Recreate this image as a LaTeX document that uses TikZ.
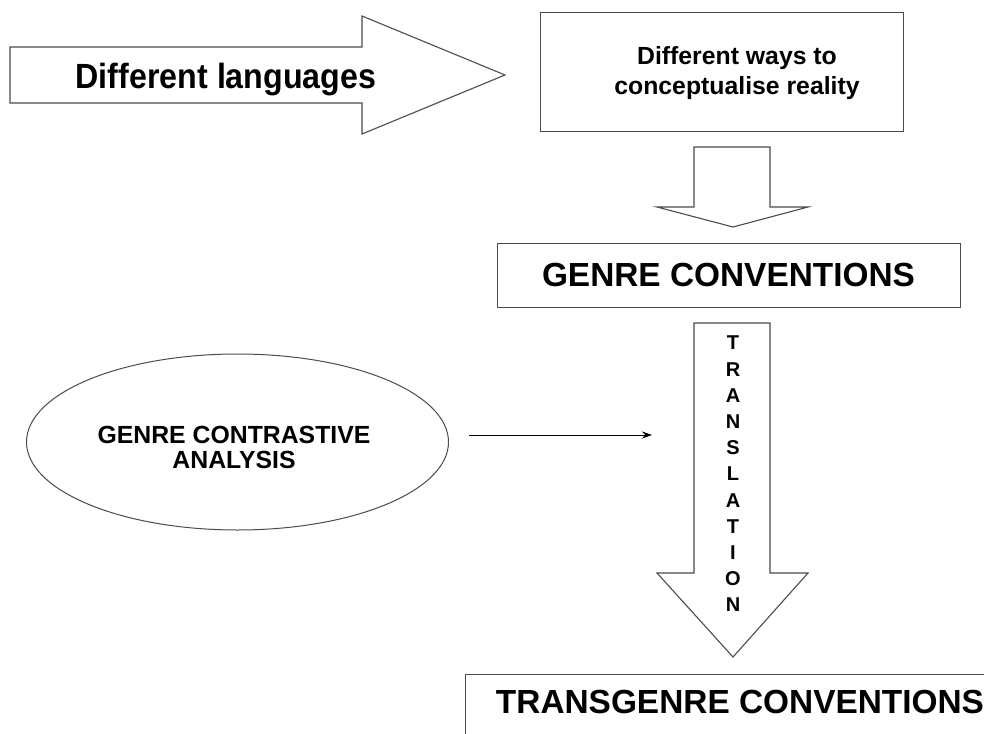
\documentclass[tikz,border=0pt]{standalone}
\usepackage{fontspec}
\setmainfont{Liberation Sans}
\usetikzlibrary{arrows.meta,shapes.geometric}
\begin{document}
\begin{tikzpicture}[x=1pt,y=-1pt,
  outline/.style={draw=black!70, line width=1.1pt, fill=white, line join=miter},
  plainbox/.style={draw=black!70, line width=1.1pt, fill=white},
  bigtxt/.style={font=\bfseries\fontsize{33.4}{38}\selectfont, inner sep=0pt},
  thin arrow/.style={draw=black, line width=0.9pt, -{Stealth[length=10pt,width=7pt]}}
]
\useasboundingbox (0,0) rectangle (984,733);
\clip (0,0) rectangle (984,733);
\fill[white] (0,0) rectangle (984,733);

% big right arrow
\draw[outline] (10,47) -- (362,47) -- (362,16) -- (505,75) -- (362,134) -- (362,103) -- (10,103) -- cycle;
\node[font=\bfseries\fontsize{35}{38}\selectfont, inner sep=0pt, anchor=base] (lang) at (226,89) {\scalebox{0.92}[1]{Different languages}};

% box 1
\node[plainbox, minimum width=363pt, minimum height=119pt, anchor=north west] (ways) at (540,12) {};
\node[font=\bfseries\fontsize{24.8}{30}\selectfont, align=center, inner sep=0pt] (waystxt) at (737,73) {Different ways to\\conceptualise reality};

% small down arrow
\draw[outline] (694,147) -- (770,147) -- (770,207) -- (808,207) -- (733,227) -- (657,207) -- (694,207) -- cycle;

% genre conventions box
\node[plainbox, minimum width=463pt, minimum height=64pt, anchor=north west] (genre) at (497,243) {};
\node[bigtxt] (genretxt) at (728.5,275) {GENRE CONVENTIONS};

% translation arrow
\draw[outline] (694,323) -- (770,323) -- (770,573) -- (808,573) -- (733,657) -- (657,573) -- (694,573) -- cycle;
\node[font=\bfseries\fontsize{20}{26.2}\selectfont, align=center, inner sep=0pt] (transl) at (733,474)
  {T\\R\\A\\N\\S\\L\\A\\T\\I\\O\\N};

% transgenre box
\node[plainbox, minimum width=530pt, minimum height=80pt, anchor=north west] (transgenre) at (465,674) {};
\node[bigtxt] (transgenretxt) at (740,702) {TRANSGENRE CONVENTIONS};

% ellipse
\node[ellipse, draw=black!70, line width=1pt, minimum width=422pt, minimum height=176pt, inner sep=0pt] (ell) at (237.5,442) {};
\node[font=\bfseries\fontsize{24.8}{25}\selectfont, align=center, inner sep=0pt] (elltxt) at (234,447) {GENRE CONTRASTIVE\\ANALYSIS};

% thin arrow
\coordinate (arrstart) at (469,435);
\coordinate (arrend) at (652,435);
\draw[thin arrow] (arrstart) -- (arrend);
\end{tikzpicture}
\end{document}
